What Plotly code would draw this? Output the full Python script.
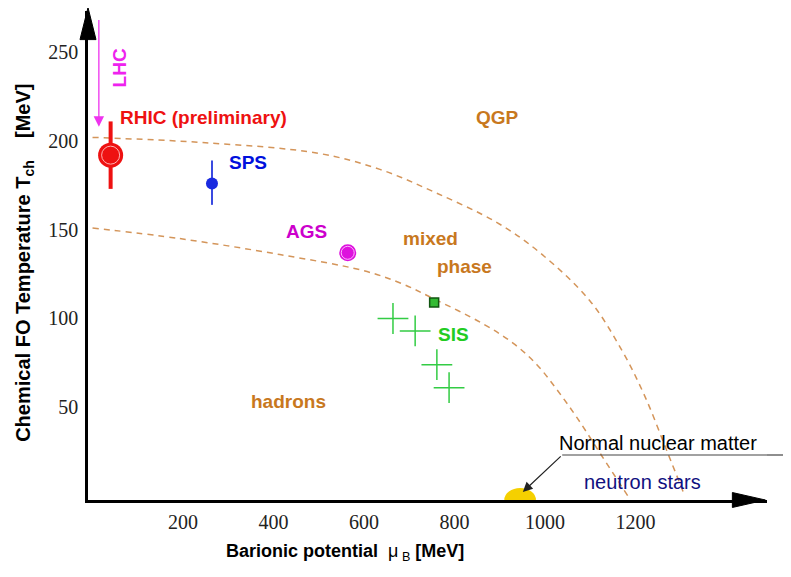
import plotly.graph_objects as go

# ---------------- data ----------------
x_ticks = [200, 400, 600, 800, 1000, 1200]
y_ticks = [50, 100, 150, 200, 250]

# phase boundary curves (dashed)
outer_mu = [0, 250, 500, 635, 757, 894, 989, 1099, 1170, 1221, 1270, 1309]
outer_T = [202, 199, 193, 184, 171, 154, 137, 110, 82, 56, 25, 0]
inner_mu = [0, 193, 414, 598, 680, 755, 863, 930, 982, 1026, 1071, 1122, 1183]
inner_T = [151, 145, 136, 127, 120, 111, 97, 86, 74, 60, 44, 24, 0]

rhic_mu = [40]
rhic_T = [192]
rhic_err_up = [19]
rhic_err_dn = [19]

sps_mu = [264]
sps_T = [176]
sps_err_up = [13]
sps_err_dn = [12]

ags_mu = [564]
ags_T = [137]

green_mu = [755]
green_T = [109]

sis_mu = [664, 713, 761, 788]
sis_T = [100, 93, 74, 61]

nm_mu = [945]
nm_T = [0]

lhc_mu = [14]
lhc_T_top = [269]
lhc_T_tip = [208]

NARROW = "Liberation Sans Narrow, Liberation Sans, Arial, sans-serif"
BROWN = "#c8781e"
CURVE = "#d4955a"

fig = go.Figure()

fig.add_trace(go.Scatter(x=outer_mu, y=outer_T, mode="lines",
                         line=dict(color=CURVE, width=1.5, dash="6px,5px"),
                         line_shape="spline", hoverinfo="skip"))
fig.add_trace(go.Scatter(x=inner_mu, y=inner_T, mode="lines",
                         line=dict(color=CURVE, width=1.5, dash="6px,5px"),
                         line_shape="spline", hoverinfo="skip"))

# RHIC
fig.add_trace(go.Scatter(x=rhic_mu, y=rhic_T, mode="markers",
                         marker=dict(color="#ee1111", size=25, line=dict(width=0)),
                         error_y=dict(type="data", symmetric=False, array=rhic_err_up,
                                      arrayminus=rhic_err_dn, color="#ee1111",
                                      thickness=4, width=0)))
fig.add_trace(go.Scatter(x=rhic_mu, y=rhic_T, mode="markers",
                         marker=dict(symbol="circle-open", color="#ffb0b0", size=18,
                                     line=dict(width=1, color="#ffb0b0"))))
# SPS
fig.add_trace(go.Scatter(x=sps_mu, y=sps_T, mode="markers",
                         marker=dict(color="#1a2ae0", size=12, line=dict(width=0)),
                         error_y=dict(type="data", symmetric=False, array=sps_err_up,
                                      arrayminus=sps_err_dn, color="#3a4ae0",
                                      thickness=2, width=0)))
# AGS
fig.add_trace(go.Scatter(x=ags_mu, y=ags_T, mode="markers",
                         marker=dict(color="#dd11dd", size=17, line=dict(width=0))))
fig.add_trace(go.Scatter(x=ags_mu, y=ags_T, mode="markers",
                         marker=dict(symbol="circle-open", color="#ffb0ff", size=13,
                                     line=dict(width=1, color="#ffb0ff"))))
# green small square
fig.add_trace(go.Scatter(x=green_mu, y=green_T, mode="markers",
                         marker=dict(symbol="square", color="#33bb33", size=9,
                                     line=dict(width=1.5, color="#115511"))))
# SIS crosses
fig.add_trace(go.Scatter(x=sis_mu, y=sis_T, mode="markers",
                         marker=dict(symbol="cross-thin", size=22,
                                     line=dict(width=1.5, color="#33cc44"))))

# normal nuclear matter (half ellipse, clipped by the axis)
fig.add_shape(type="circle", xref="x", yref="y", layer="below",
              x0=nm_mu[0] - 35, x1=nm_mu[0] + 35, y0=nm_T[0] - 9, y1=nm_T[0] + 4.5,
              fillcolor="#f5d000", line=dict(width=0))

# axis arrowheads
fig.add_shape(type="path", xref="paper", yref="paper",
              path="M 0,1.007 L -0.0118,0.9415 L 0.0118,0.9415 Z",
              fillcolor="black", line=dict(color="black", width=1))
fig.add_shape(type="path", xref="paper", yref="paper",
              path="M 0.9975,0 L 0.949,0.0153 L 0.949,-0.0153 Z",
              fillcolor="black", line=dict(color="black", width=1))

# Normal nuclear matter pointer
fig.add_shape(type="line", xref="x", yref="y", x0=1038, x1=1600, y0=23.1, y1=23.1,
              line=dict(color="#444444", width=1.2))
fig.add_shape(type="line", xref="paper", yref="y", x0=1.0, x1=1.04, y0=23.1, y1=23.1,
              line=dict(color="#444444", width=1.2))
fig.add_annotation(x=nm_mu[0] + 6, y=nm_T[0] + 2.3, ax=1038, ay=23.1, axref="x", ayref="y",
                   xref="x", yref="y", text="", showarrow=True, arrowhead=2,
                   arrowsize=1.6, arrowwidth=1.2, arrowcolor="#222222")

# LHC arrow
fig.add_annotation(x=lhc_mu[0], y=lhc_T_tip[0], ax=lhc_mu[0], ay=lhc_T_top[0],
                   axref="x", ayref="y", xref="x", yref="y", text="", showarrow=True,
                   arrowhead=2, arrowsize=1.6, arrowwidth=1.3, arrowcolor="#ee33ee")

def label(x, y, text, color, size=19, bold=True, angle=0, font=NARROW):
    t = f"<b>{text}</b>" if bold else text
    fig.add_annotation(x=x, y=y, xref="x", yref="y", text=t, showarrow=False,
                       textangle=angle, font=dict(family=font, size=size, color=color))

label(896, 213, "QGP", BROWN)
label(746, 145, "mixed", BROWN)
label(823, 129, "phase", BROWN)
label(432, 53, "hadrons", BROWN)
label(797, 91, "SIS", "#22cc22")
label(472, 149, "AGS", "#cc00cc")
label(344, 188, "SPS", "#0010dd")
label(246, 213, "RHIC (preliminary)", "#ee1111")
label(59, 241, "LHC", "#ee22ee", angle=-90)
label(1250, 30, "Normal nuclear matter", "#000000", size=20, bold=False)
label(1216, 7.9, "neutron stars", "#101080", size=20, bold=False)

# axis titles
fig.add_annotation(xref="paper", yref="paper", x=-0.0928, y=0.485, textangle=-90,
                   xanchor="center", yanchor="middle",
                   text="<b>Chemical FO Temperature T<sub>ch</sub>    [MeV]</b>",
                   showarrow=False, font=dict(family=NARROW, size=20, color="black"))
fig.add_annotation(xref="paper", yref="paper", x=0.3785, y=-0.108,
                   xanchor="center", yanchor="middle",
                   text="<b>Barionic potential</b>  μ<sub> B</sub> <b>[MeV]</b>",
                   showarrow=False, font=dict(family=NARROW, size=18, color="black"))

# the page has an 8px body margin, so the figure is 8px smaller than the window
fig.update_layout(
    width=783, height=569,
    margin=dict(l=80, r=24, t=3, b=77),
    plot_bgcolor="white", paper_bgcolor="white",
    showlegend=False,
    xaxis=dict(range=[-10, 1490.6], tickvals=x_ticks, ticktext=[str(v) for v in x_ticks],
               showgrid=False, zeroline=False, showline=True, linecolor="black",
               linewidth=2.5, ticks="", ticklabelstandoff=2,
               tickfont=dict(family="Liberation Serif, Times New Roman, serif", size=20,
                             color="#222222")),
    yaxis=dict(range=[-2.25, 273.2], tickvals=y_ticks, ticktext=[str(v) for v in y_ticks],
               showgrid=False, zeroline=False, showline=True, linecolor="black",
               linewidth=2.5, ticks="", ticklabelstandoff=3,
               tickfont=dict(family="Liberation Serif, Times New Roman, serif", size=20,
                             color="#222222")),
)

fig.write_html("out.html")
